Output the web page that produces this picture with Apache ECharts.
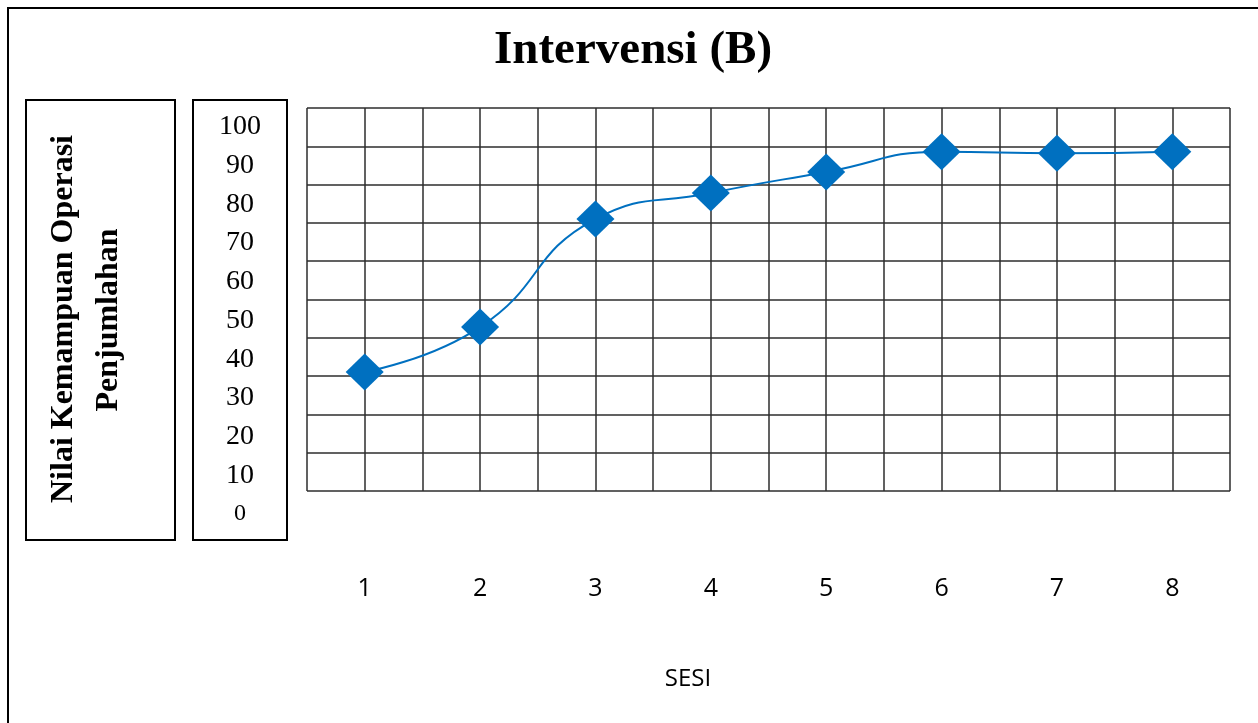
<!DOCTYPE html>
<html>
<head>
<meta charset="utf-8">
<title>Intervensi (B)</title>
<script src="https://cdn.jsdelivr.net/npm/echarts@6/dist/echarts.min.js"></script>
<style>
  html, body { margin: 0; padding: 0; background: #fff; }
  #chart { width: 1258px; height: 723px; }
</style>
</head>
<body>
<div id="chart"></div>
<script>
// Session numbers and scores for phase B (intervention)
const sessions = [1, 2, 3, 4, 5, 6, 7, 8];
const scores = [31.1, 42.8, 71.0, 77.8, 83.3, 88.6, 88.2, 88.6];
const scoreTicks = [0, 10, 20, 30, 40, 50, 60, 70, 80, 90, 100];

const chartTitle = 'Intervensi (B)';
const yTitleLines = ['Nilai Kemampuan Operasi', 'Penjumlahan'];
const xTitle = 'SESI';

const serif = '"Liberation Serif", "Times New Roman", serif';
const sans = '"Open Sans", "Liberation Sans", sans-serif';
const gridColor = '#2c2c2c';
const blue = '#0070C0';

const chart = echarts.init(document.getElementById('chart'), null, { renderer: 'canvas' });

chart.setOption({
  animation: false,
  backgroundColor: '#fff',
  grid: [
    // plotting area
    { left: 307, right: 28, top: 108, bottom: 232, containLabel: false },
    // scale label column inside its own frame
    { left: 286, width: 1, top: 127, bottom: 209, containLabel: false }
  ],
  xAxis: [
    {
      gridIndex: 0,
      type: 'value',
      min: 0.5,
      max: 8.5,
      interval: 0.5,
      axisLine: { show: false },
      axisTick: { show: false },
      splitLine: { show: true, lineStyle: { color: gridColor, width: 1.5 } },
      axisLabel: {
        margin: 85,
        fontFamily: sans,
        fontSize: 25,
        color: '#000',
        formatter: v => (Number.isInteger(v) && sessions.includes(v) ? String(v) : '')
      }
    },
    { gridIndex: 1, type: 'value', show: false }
  ],
  yAxis: [
    {
      gridIndex: 0,
      type: 'value',
      min: 0,
      max: 100,
      interval: 10,
      axisLine: { show: false },
      axisTick: { show: false },
      axisLabel: { show: false },
      splitLine: { show: true, lineStyle: { color: gridColor, width: 1.5 } }
    },
    {
      gridIndex: 1,
      type: 'value',
      min: scoreTicks[0],
      max: scoreTicks[scoreTicks.length - 1],
      interval: 10,
      axisLine: { show: false },
      axisTick: { show: false },
      splitLine: { show: false },
      axisLabel: {
        margin: 46,
        align: 'center',
        verticalAlign: 'middle',
        fontFamily: serif,
        fontSize: 28,
        color: '#000',
        formatter: v => (v === 0 ? '{z|0}' : String(v)),
        rich: { z: { fontFamily: serif, fontSize: 24, color: '#000' } }
      }
    }
  ],
  series: [
    {
      type: 'line',
      xAxisIndex: 0,
      yAxisIndex: 0,
      data: sessions.map((s, i) => [s, scores[i]]),
      smooth: true,
      symbol: 'diamond',
      symbolSize: [38, 37],
      showAllSymbol: true,
      lineStyle: { color: blue, width: 2 },
      itemStyle: { color: blue, borderWidth: 0 },
      z: 5
    }
  ],
  graphic: [
    // outer frame
    {
      type: 'rect',
      shape: { x: 8, y: 8, width: 1300, height: 800 },
      style: { fill: 'none', stroke: '#000', lineWidth: 2 },
      silent: true
    },
    // frame for the y-axis title
    {
      type: 'rect',
      shape: { x: 26, y: 100, width: 149, height: 440 },
      style: { fill: 'none', stroke: '#000', lineWidth: 2 },
      silent: true
    },
    // frame for the scale numbers
    {
      type: 'rect',
      shape: { x: 193, y: 100, width: 94, height: 440 },
      style: { fill: 'none', stroke: '#000', lineWidth: 2 },
      silent: true
    },
    {
      type: 'text',
      x: 633,
      y: 51,
      style: {
        text: chartTitle,
        font: 'bold 47px ' + serif,
        fill: '#000',
        textAlign: 'center',
        textVerticalAlign: 'middle'
      }
    },
    {
      type: 'text',
      x: 64,
      y: 319,
      rotation: Math.PI / 2,
      style: {
        text: yTitleLines[0],
        font: 'bold 32px ' + serif,
        fill: '#000',
        textAlign: 'center',
        textVerticalAlign: 'middle'
      }
    },
    {
      type: 'text',
      x: 109,
      y: 320,
      rotation: Math.PI / 2,
      style: {
        text: yTitleLines[1],
        font: 'bold 32px ' + serif,
        fill: '#000',
        textAlign: 'center',
        textVerticalAlign: 'middle'
      }
    },
    {
      type: 'text',
      x: 688,
      y: 679,
      style: {
        text: xTitle,
        font: '24px ' + sans,
        fill: '#000',
        textAlign: 'center',
        textVerticalAlign: 'middle'
      }
    }
  ]
});
</script>
</body>
</html>
